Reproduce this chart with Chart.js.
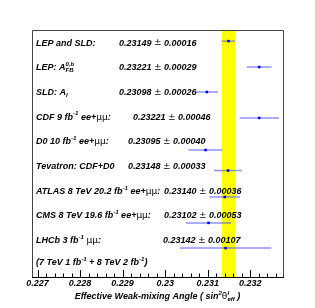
<!DOCTYPE html>
<html>
<head>
<meta charset="utf-8">
<script src="https://cdn.jsdelivr.net/npm/chart.js@4.4.0/dist/chart.umd.min.js"></script>
<style>
  html, body { margin: 0; padding: 0; background: #fff; }
  #wrap { width: 315px; height: 308px; }
</style>
</head>
<body>
<div id="wrap"><canvas id="chart"></canvas></div>
<script>
const labels = [
  'LEP and SLD:',
  'LEP: A_{FB}^{0,b}',
  'SLD: A_{l}',
  'CDF 9 fb^{-1} ee+μμ:',
  'D0 10 fb^{-1} ee+μμ:',
  'Tevatron: CDF+D0',
  'ATLAS 8 TeV 20.2 fb^{-1} ee+μμ:',
  'CMS 8 TeV 19.6 fb^{-1} ee+μμ:',
  'LHCb 3 fb^{-1} μμ:'
]
const values = [0.23149, 0.23221, 0.23098, 0.23221, 0.23095, 0.23148, 0.23140, 0.23102, 0.23142]
const errors = [0.00016, 0.00029, 0.00026, 0.00046, 0.00040, 0.00033, 0.00036, 0.00053, 0.00107]
// vertical position of each point, in row units (row 0 at top)
const rowPos = [0.45, 1.5, 2.51, 3.56, 4.86, 5.69, 6.76, 7.81, 8.83]
const tickValues = [0.227, 0.228, 0.229, 0.230, 0.231, 0.232]
const tickLabels = ['0.227', '0.228', '0.229', '0.23', '0.231', '0.232']
const footnote = '(7 TeV 1 fb^{-1} + 8 TeV 2 fb^{-1})'
const axisTitle = 'Effective Weak-mixing Angle ( sin^{2}θ^{l}_{eff} )'

const FONT = '"Liberation Sans", Arial, sans-serif'
const SYM = /([μ±θ]+)/

// draws text with ^{..} and _{..} scripts, symbols in plain weight
function drawRich(ctx, str, x, y, size) {
  const parts = str.split(/(\^\{[^}]*\}|_\{[^}]*\})/).filter(p => p !== '')
  let cx = x
  let scriptStart = null
  let scriptEnd = 0
  parts.forEach(p => {
    if (p[0] === '^' || p[0] === '_') {
      const t = p.slice(2, -1)
      const sup = p[0] === '^'
      const s = size * 0.68
      const start = scriptStart !== null ? scriptStart : cx
      ctx.font = 'italic bold ' + s + 'px ' + FONT
      ctx.fillText(t, start, y + (sup ? -size * 0.38 : size * 0.3))
      scriptEnd = Math.max(scriptEnd, start + ctx.measureText(t).width)
      scriptStart = start
      cx = scriptEnd
    } else {
      scriptStart = null
      scriptEnd = 0
      p.split(SYM).filter(q => q !== '').forEach(q => {
        if (SYM.test(q)) ctx.font = size + 'px "DejaVu Sans", sans-serif'
        else ctx.font = 'italic bold ' + size + 'px ' + FONT
        ctx.fillText(q, cx, y)
        cx += ctx.measureText(q).width
      })
    }
  })
  return cx
}

function richWidth(ctx, str, size) {
  ctx.save()
  ctx.globalAlpha = 0
  const w = drawRich(ctx, str, 0, -100, size)
  ctx.restore()
  return w
}

// x position where each value text starts
const valueX = [119, 119, 119, 133, 128, 128, 164, 164, 163]

const overlay = {
  id: 'overlay',
  beforeDatasetsDraw(chart) {
    const ctx = chart.ctx
    const x = chart.scales.x
    const a = chart.chartArea
    const x0 = x.getPixelForValue(values[0] - errors[0])
    const x1 = x.getPixelForValue(values[0] + errors[0])
    ctx.save()
    ctx.fillStyle = '#ffff00'
    ctx.fillRect(x0, a.top, x1 - x0, a.bottom - a.top)
    ctx.restore()
  },
  afterDraw(chart) {
    const ctx = chart.ctx
    const x = chart.scales.x
    const y = chart.scales.y
    const a = chart.chartArea
    ctx.save()
    // frame
    ctx.strokeStyle = '#444'
    ctx.lineWidth = 1
    ctx.beginPath()
    ctx.moveTo(Math.round(a.left) + 0.5, a.bottom)
    ctx.lineTo(Math.round(a.left) + 0.5, Math.round(a.top) + 0.5)
    ctx.lineTo(Math.round(a.right) + 0.5, Math.round(a.top) + 0.5)
    ctx.lineTo(Math.round(a.right) + 0.5, a.bottom)
    ctx.stroke()
    // ticks
    ctx.strokeStyle = '#000'
    ctx.beginPath()
    const k0 = Math.ceil(x.min / 0.0002 - 1e-6)
    const k1 = Math.floor(x.max / 0.0002 + 1e-6)
    for (let k = k0; k <= k1; k++) {
      const px = Math.round(x.getPixelForValue(k * 0.0002)) + 0.5
      const len = k % 5 === 0 ? 7 : 3.5
      ctx.moveTo(px, a.bottom)
      ctx.lineTo(px, a.bottom - len)
    }
    ctx.stroke()
    // texts
    ctx.fillStyle = '#000'
    ctx.textBaseline = 'middle'
    ctx.textAlign = 'left'
    labels.forEach((lab, i) => {
      const py = y.getPixelForValue(i + 0.53)
      drawRich(ctx, lab, 36, py, 9)
      const txt = values[i].toFixed(5) + ' ± ' + errors[i].toFixed(5)
      drawRich(ctx, txt, valueX[i], py, 9)
    })
    drawRich(ctx, footnote, 36, y.getPixelForValue(9.43), 9)
    // axis title
    const w = richWidth(ctx, axisTitle, 9)
    drawRich(ctx, axisTitle, (a.left + a.right) / 2 - w / 2, 297, 9)
    ctx.restore()
  }
}

const points = values.map((v, i) => ({ x: v, y: rowPos[i] }))
const errorBars = values.map((v, i) => ({
  data: [{ x: v - errors[i], y: rowPos[i] }, { x: v + errors[i], y: rowPos[i] }],
  showLine: true,
  borderColor: 'rgba(70,70,255,0.6)',
  borderWidth: 1.5,
  pointRadius: 0
}))

const ctx = document.getElementById('chart').getContext('2d')
const chart = new Chart(ctx, {
  type: 'scatter',
  data: {
    datasets: [
      {
        data: points,
        pointStyle: 'rect',
        pointRadius: 1.8,
        backgroundColor: '#0000ff',
        borderWidth: 0
      }
    ].concat(errorBars)
  },
  options: {
    responsive: true,
    maintainAspectRatio: false,
    animation: false,
    layout: { padding: { left: 32, right: 32, top: 30, bottom: 0 } },
    plugins: { legend: { display: false }, tooltip: { enabled: false } },
    scales: {
      x: {
        type: 'linear',
        min: 0.22687,
        max: 0.23277,
        afterBuildTicks: s => { s.ticks = tickValues.map(v => ({ value: v })) },
        afterFit: s => { s.height = 31 },
        ticks: {
          callback: (v, i) => tickLabels[i],
          font: { family: FONT, size: 9, style: 'italic', weight: 'bold' },
          color: '#000',
          padding: 1,
          maxRotation: 0,
          autoSkip: false
        },
        grid: { drawOnChartArea: false, drawTicks: false },
        border: { display: true, color: '#000', width: 1 }
      },
      y: {
        type: 'linear',
        min: 0,
        max: 10,
        reverse: true,
        display: false
      }
    }
  },
  plugins: [overlay]
})
</script>
</body>
</html>
